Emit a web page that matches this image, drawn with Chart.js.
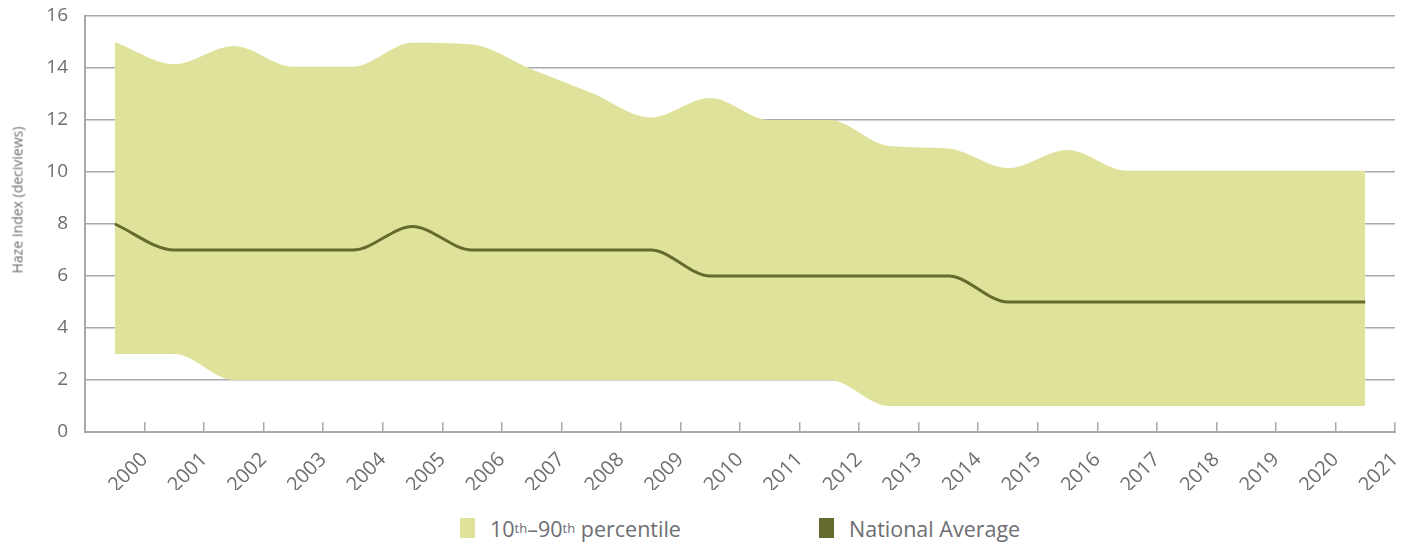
<!DOCTYPE html>
<html lang="en">
<head>
    <meta charset="UTF-8">
    <title>Haze Index</title>
    <script src="https://cdn.jsdelivr.net/npm/chart.js"></script>
    <style>
        body { margin: 0; background: #fff; }
        #wrap { position: relative; width: 1425px; height: 544px; font-family: 'Open Sans', sans-serif; color: #6d6e71; }
        #chartBox { position: absolute; left: 0; top: 0; width: 1425px; height: 490px; }
        #yTitle { position: absolute; left: 17px; top: 200px; transform: translate(-50%, -50%) rotate(-90deg); font-size: 14px; white-space: nowrap; }
        .key { position: absolute; top: 516px; height: 24px; display: flex; align-items: center; font-size: 21.5px; white-space: nowrap; }
        .key i { display: inline-block; width: 15px; height: 20px; margin-right: 15px; }
        .key sup { font-size: 13px; vertical-align: 7px; line-height: 0; color: #6d6e71; }
    </style>
</head>
<body>
<div id="wrap">
    <div id="chartBox"><canvas id="hazeChart"></canvas></div>
    <div id="yTitle">Haze Index (deciviews)</div>
    <div class="key" style="left:460px"><i style="background:#dfe29a"></i>10<sup>th</sup>–90<sup>th</sup>&nbsp;percentile</div>
    <div class="key" style="left:819px"><i style="background:#656b2e"></i>National Average</div>
</div>
<script>
    // 연도별 헤이즈 지수 (deciviews)
    const years = ['2000', '2001', '2002', '2003', '2004', '2005', '2006', '2007', '2008', '2009', '2010',
                   '2011', '2012', '2013', '2014', '2015', '2016', '2017', '2018', '2019', '2020', '2021'];
    const pct90 = [15.0, 14.15, 14.85, 14.05, 14.05, 14.97, 14.9, 13.95, 13.05, 12.1, 12.85,
                   12.0, 12.0, 11.0, 10.9, 10.15, 10.85, 10.05, 10.05, 10.05, 10.05, 10.05];
    const pct10 = [3, 3, 2, 2, 2, 2, 2, 2, 2, 2, 2,
                   2, 2, 1, 1, 1, 1, 1, 1, 1, 1, 1];
    const nationalAvg = [8, 7, 7, 7, 7, 7.9, 7, 7, 7, 7, 6,
                         6, 6, 6, 6, 5, 5, 5, 5, 5, 5, 5];
    const yTicks = [0, 2, 4, 6, 8, 10, 12, 14, 16];

    const axisGray = '#a7a9ac';
    const textGray = '#6d6e71';

    const ctx = document.getElementById('hazeChart').getContext('2d');
    const hazeChart = new Chart(ctx, {
        type: 'line',
        data: {
            labels: years,
            datasets: [
                {
                    label: 'National Average',
                    data: nationalAvg,
                    borderColor: '#656b2e',
                    borderWidth: 3,
                    fill: false,
                    cubicInterpolationMode: 'monotone'
                },
                {
                    label: '90th percentile',
                    data: pct90,
                    borderWidth: 0,
                    borderColor: 'rgba(0,0,0,0)',
                    fill: false,
                    cubicInterpolationMode: 'monotone'
                },
                {
                    label: '10th percentile',
                    data: pct10,
                    borderWidth: 0,
                    borderColor: 'rgba(0,0,0,0)',
                    backgroundColor: '#dfe29a',
                    fill: '-1',
                    cubicInterpolationMode: 'monotone'
                }
            ]
        },
        options: {
            responsive: true,
            maintainAspectRatio: false,
            animation: false,
            layout: { padding: { top: 16, right: 30, left: 0, bottom: 0 } },
            elements: { point: { radius: 0 } },
            plugins: {
                legend: { display: false },
                tooltip: { enabled: false }
            },
            scales: {
                x: {
                    offset: true,
                    grid: { offset: true, drawOnChartArea: false, tickLength: -10, color: axisGray, lineWidth: 1.5 },
                    border: { color: axisGray, width: 2 },
                    ticks: {
                        autoSkip: false,
                        minRotation: 45,
                        maxRotation: 45,
                        labelOffset: 29.8,
                        padding: 26,
                        color: textGray,
                        font: { family: 'Open Sans', size: 20 }
                    },
                    afterFit: function(scale) { scale.height = 58; }
                },
                y: {
                    min: 0,
                    max: 16,
                    afterBuildTicks: function(scale) {
                        scale.ticks = yTicks.map(v => ({ value: v }));
                    },
                    grid: { color: axisGray, lineWidth: 1.5, drawTicks: false },
                    border: { color: axisGray, width: 2 },
                    ticks: { padding: 17, color: textGray, font: { family: 'Open Sans', size: 19 } },
                    afterFit: function(scale) {
                        // 라벨 여백이 플롯 영역을 밀어내지 않도록
                        scale.width = 85;
                        scale.paddingTop = 0;
                        scale.paddingBottom = 0;
                    }
                }
            }
        }
    });
</script>
</body>
</html>
